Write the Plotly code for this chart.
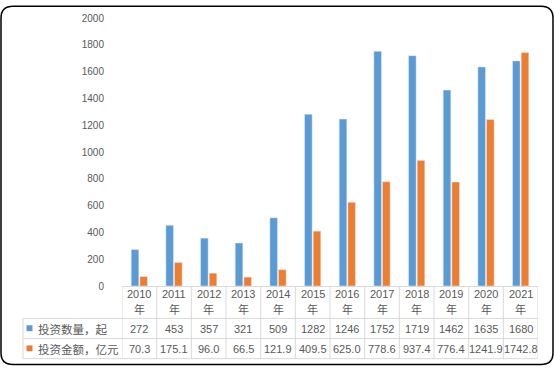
import plotly.graph_objects as go

years = ["2010", "2011", "2012", "2013", "2014", "2015", "2016", "2017", "2018", "2019", "2020", "2021"]
year_suffix = "年"
count_name = "投资数量，起"
amount_name = "投资金额，亿元"
counts = [272, 453, 357, 321, 509, 1282, 1246, 1752, 1719, 1462, 1635, 1680]
amounts = [70.3, 175.1, 96.0, 66.5, 121.9, 409.5, 625.0, 778.6, 937.4, 776.4, 1241.9, 1742.8]
y_ticks = list(range(0, 2001, 200))

BLUE = "#5B9BD5"
ORANGE = "#ED7D31"
GRID = "#D9D9D9"
TXT = "#595959"
FONT = "Liberation Sans, Arial, Noto Sans CJK SC"

W, H = 554, 368
L, R, T, B = 122, 538, 13, 286


def px(x):
    return (x - L) / (R - L)


def py(y):
    return (B - y) / (B - T)


fig = go.Figure()
fig.add_trace(go.Bar(x=years, y=counts, name=count_name, marker=dict(color=BLUE)))
fig.add_trace(go.Bar(x=years, y=amounts, name=amount_name, marker=dict(color=ORANGE)))

shapes = []
annotations = []
n = len(years)
# vertical grid lines of the data table
for i in range(n + 1):
    shapes.append(dict(type="line", xref="x", yref="paper", x0=i - 0.5, x1=i - 0.5,
                       y0=py(286), y1=py(360), line=dict(color=GRID, width=1)))
# horizontal lines
for yy in (319, 339.5, 360):
    shapes.append(dict(type="line", xref="paper", yref="paper", x0=px(23), x1=1,
                       y0=py(yy), y1=py(yy), line=dict(color=GRID, width=1)))
shapes.append(dict(type="line", xref="paper", yref="paper", x0=px(23), x1=px(23),
                   y0=py(319), y1=py(360), line=dict(color=GRID, width=1)))
# legend keys
for yc, col in ((329, BLUE), (349.5, ORANGE)):
    shapes.append(dict(type="rect", xref="paper", yref="paper", x0=px(26.5), x1=px(32.5),
                       y0=py(yc - 3), y1=py(yc + 3), fillcolor=col, line=dict(width=0)))
# rounded outer border
r = 12
x0, x1, y0, y1 = 1, 553, 1, 366
path = (f"M {px(x0 + r)},{py(y0)} L {px(x1 - r)},{py(y0)} Q {px(x1)},{py(y0)} {px(x1)},{py(y0 + r)} "
        f"L {px(x1)},{py(y1 - r)} Q {px(x1)},{py(y1)} {px(x1 - r)},{py(y1)} "
        f"L {px(x0 + r)},{py(y1)} Q {px(x0)},{py(y1)} {px(x0)},{py(y1 - r)} "
        f"L {px(x0)},{py(y0 + r)} Q {px(x0)},{py(y0)} {px(x0 + r)},{py(y0)} Z")
shapes.append(dict(type="path", xref="paper", yref="paper", path=path,
                   line=dict(color="#000000", width=1.5)))

for i, yr in enumerate(years):
    annotations.append(dict(x=i, xref="x", yref="paper", y=py(294), text=yr, showarrow=False,
                            font=dict(family=FONT, size=11, color=TXT), yanchor="middle"))
    annotations.append(dict(x=i, xref="x", yref="paper", y=py(309), text=year_suffix, showarrow=False,
                            font=dict(family="Noto Sans CJK SC", size=11, color=TXT), yanchor="middle"))
    annotations.append(dict(x=i, xref="x", yref="paper", y=py(329.5), text=str(counts[i]), showarrow=False,
                            font=dict(family=FONT, size=11, color=TXT), yanchor="middle"))
    annotations.append(dict(x=i, xref="x", yref="paper", y=py(350), text=f"{amounts[i]:.1f}", showarrow=False,
                            font=dict(family=FONT, size=11, color=TXT), yanchor="middle"))

for yc, name in ((329.5, count_name), (350, amount_name)):
    annotations.append(dict(x=px(36), xref="paper", yref="paper", y=py(yc), text=name, showarrow=False,
                            xanchor="left", yanchor="middle",
                            font=dict(family="Noto Sans CJK SC", size=11.5, color=TXT)))

fig.update_layout(
    width=W, height=H,
    margin=dict(l=L, r=W - R, t=T, b=H - B, pad=0),
    paper_bgcolor="white", plot_bgcolor="white",
    showlegend=False,
    barmode="group", bargap=0.5, bargroupgap=0.12,
    xaxis=dict(type="category", showticklabels=False, ticks="", showgrid=False, zeroline=False,
               showline=True, linecolor=GRID, linewidth=1, range=[-0.5, n - 0.5]),
    yaxis=dict(range=[0, 2000], tickvals=y_ticks, showgrid=False, zeroline=False, showline=False,
               ticks="outside", ticklen=15, tickcolor="rgba(0,0,0,0)",
               tickfont=dict(family=FONT, size=10, color=TXT)),
    shapes=shapes, annotations=annotations,
)

fig.write_html("out.html", config={"displayModeBar": False},
               post_script="document.body.style.margin='0';document.body.style.padding='0';")
